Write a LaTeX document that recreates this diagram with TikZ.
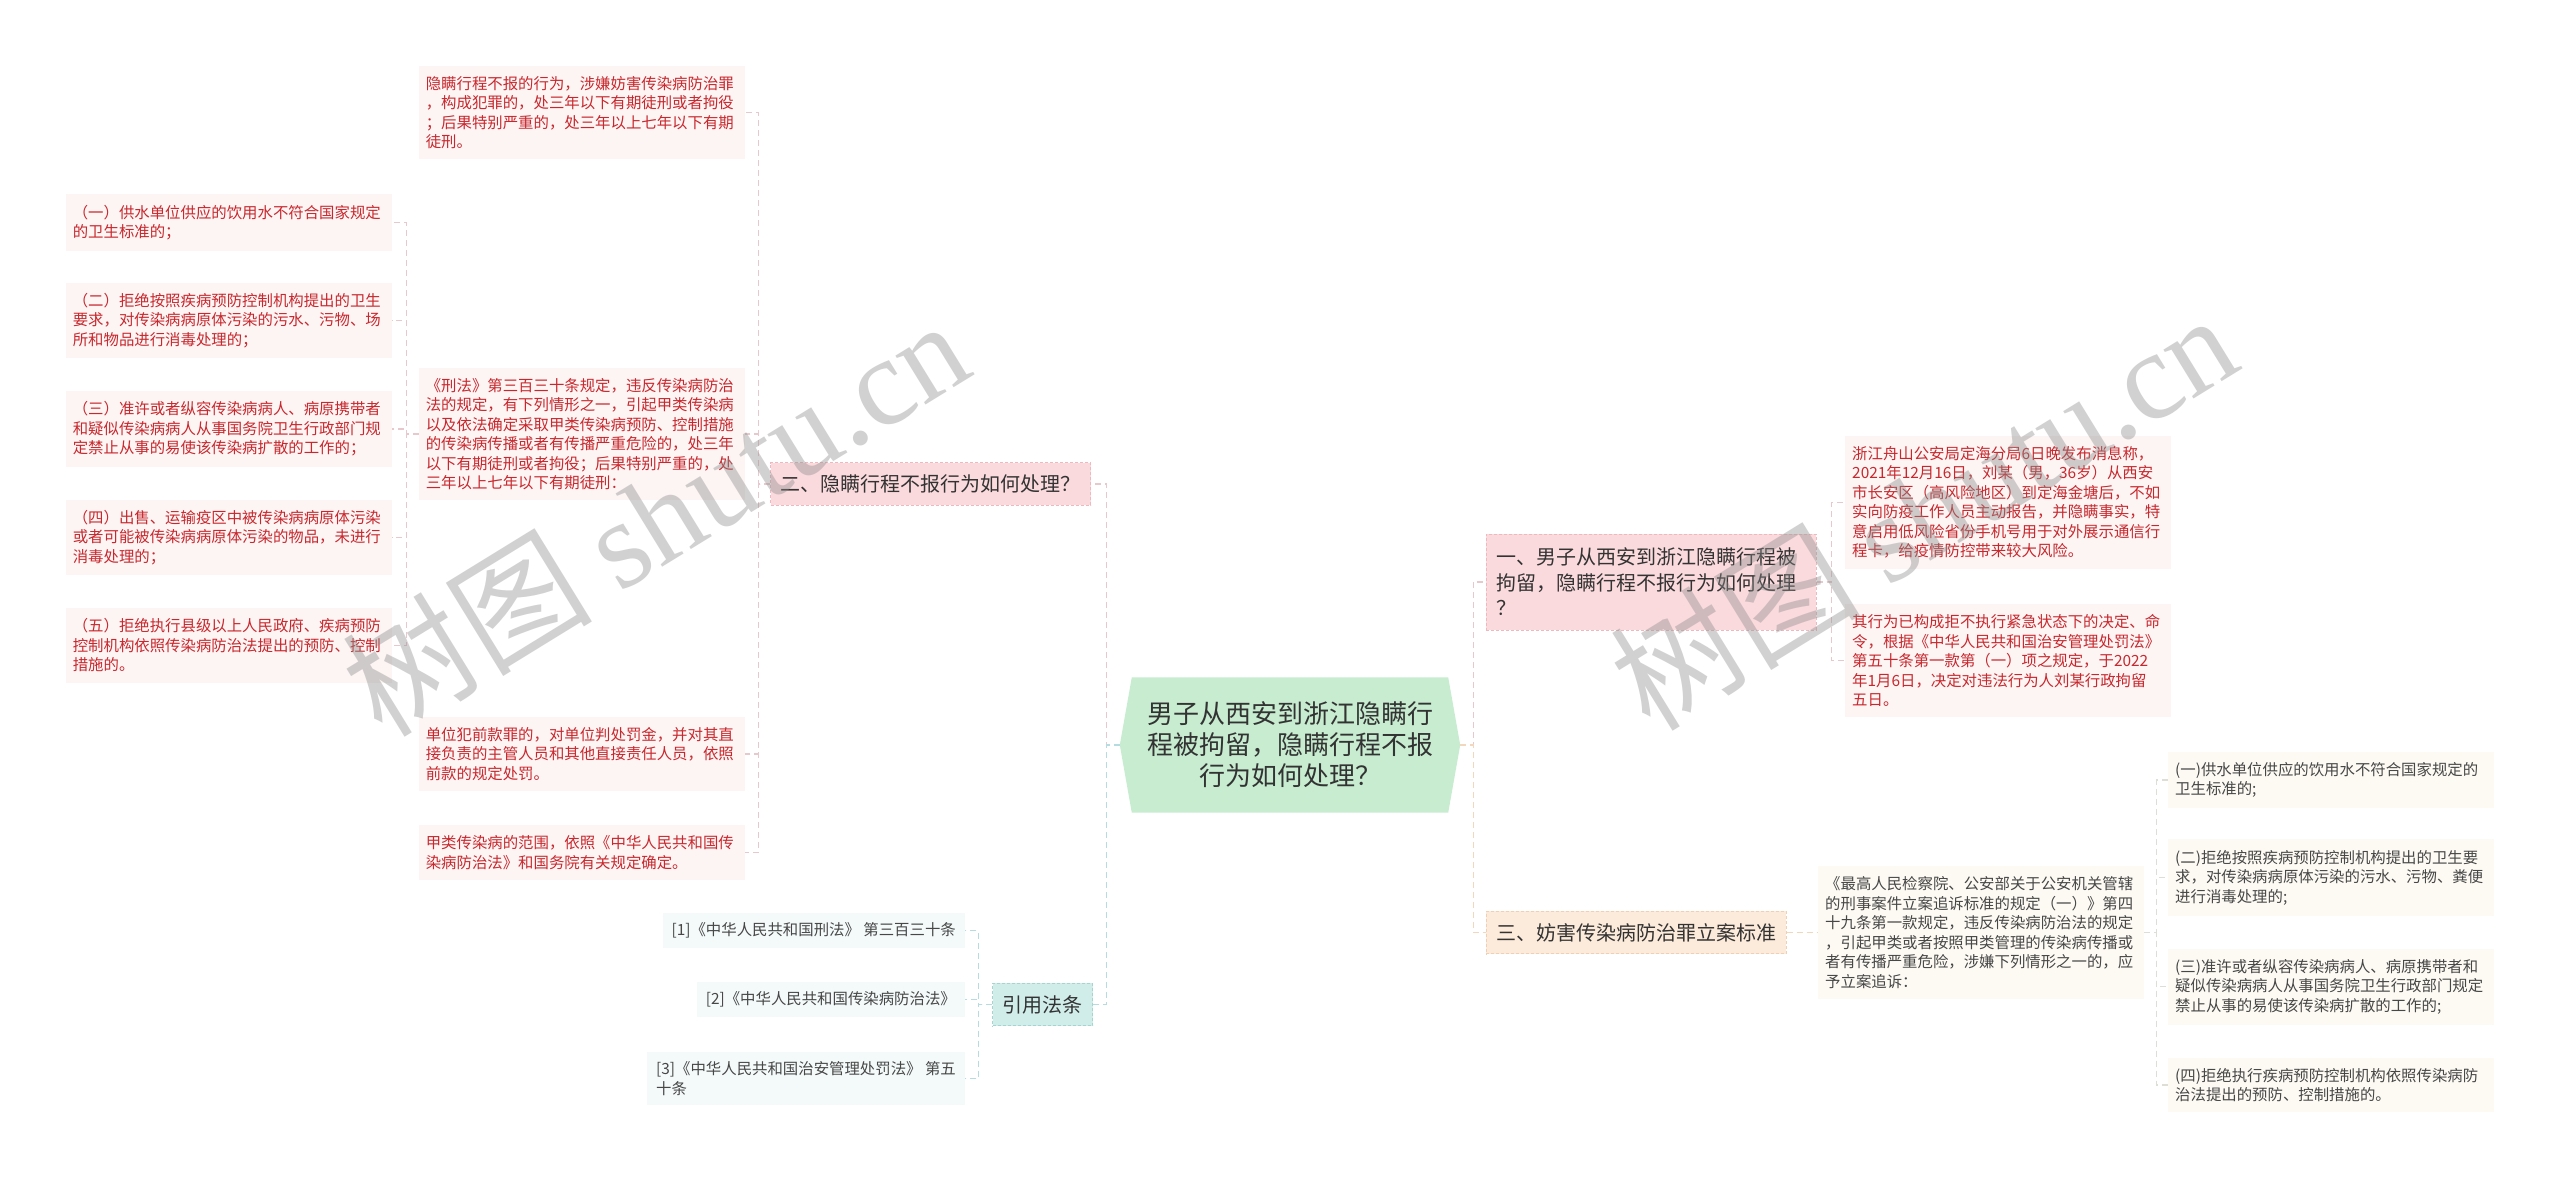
\documentclass[tikz,border=0pt]{standalone}
\usepackage{fontspec}
\setmainfont{Noto Sans CJK SC}
\newfontfamily\wmfont{Liberation Serif}
\usepackage{xcolor}
\usepackage{tikz}
\usetikzlibrary{backgrounds}
\definecolor{figtext}{RGB}{51,51,51}
\definecolor{figred}{RGB}{200,40,45}
\definecolor{hubfill}{RGB}{199,236,208}
\definecolor{pinktopic}{RGB}{250,218,220}
\definecolor{pinkedge}{RGB}{238,185,190}
\definecolor{pinkleaf}{RGB}{253,244,244}
\definecolor{tealtopic}{RGB}{208,237,234}
\definecolor{tealedge}{RGB}{165,213,208}
\definecolor{tealleaf}{RGB}{244,250,250}
\definecolor{peachtopic}{RGB}{252,235,218}
\definecolor{peachedge}{RGB}{240,208,180}
\definecolor{creamleaf}{RGB}{253,250,243}
\definecolor{pinkline}{RGB}{232,200,204}
\definecolor{tealline}{RGB}{180,220,225}
\definecolor{peachline}{RGB}{243,214,190}
\definecolor{greyline}{RGB}{222,222,214}
\definecolor{wmgrey}{RGB}{140,140,140}
\tikzset{
  hubbox/.style   ={font=\fontsize{26}{31}\selectfont, text=figtext, align=center, minimum width=340pt, minimum height=135pt, inner sep=0pt},
  topicbox/.style ={font=\fontsize{20}{25.5}\selectfont, text=figtext, align=left, inner xsep=10pt, inner ysep=12pt, line width=0.6pt, dash pattern=on 3pt off 2pt},
  leafbox/.style  ={font=\fontsize{15.4}{19.5}\selectfont, align=left, text width=312pt, inner xsep=7pt, inner ysep=10.5pt},
  redleaf/.style  ={leafbox, fill=pinkleaf, text=figred},
  greyleaf/.style ={leafbox, fill=creamleaf, text=figtext!90},
  citebox/.style  ={font=\fontsize{15.4}{19.5}\selectfont, align=left, inner xsep=9pt, inner ysep=10pt, fill=tealleaf, text=figtext!90},
  con/.style      ={line width=1.3pt, dash pattern=on 6pt off 4pt},
  wmark/.style    ={text=wmgrey, opacity=0.4, rotate=31.6, font=\fontsize{125}{125}\selectfont, inner sep=0pt},
}
\begin{document}
\begin{tikzpicture}[x=1pt,y=-1pt]
  \useasboundingbox (0,0) rectangle (2560,1179);
  \node[hubbox] (hub) at (1290,745) {男子从西安到浙江隐瞒行\\程被拘留，隐瞒行程不报\\行为如何处理？};

  \node[topicbox,fill=pinktopic,draw=pinkedge,anchor=east] (t2) at (1091,484) {二、隐瞒行程不报行为如何处理？};
  \node[topicbox,fill=tealtopic,draw=tealedge,anchor=east] (law) at (1093,1004.5) {引用法条};
  \node[topicbox,fill=pinktopic,draw=pinkedge,anchor=west,text width=310pt,inner ysep=14pt] (t1) at (1486,582) {一、男子从西安到浙江隐瞒行程被\\拘留，隐瞒行程不报行为如何处理\\？};
  \node[topicbox,fill=peachtopic,draw=peachedge,anchor=west] (t3) at (1486,932.5) {三、妨害传染病防治罪立案标准};

  \node[redleaf,anchor=east] (p1) at (745,112.5) {隐瞒行程不报的行为，涉嫌妨害传染病防治罪\\，构成犯罪的，处三年以下有期徒刑或者拘役\\；后果特别严重的，处三年以上七年以下有期\\徒刑。};
  \node[redleaf,anchor=east] (p2) at (745,434) {《刑法》第三百三十条规定，违反传染病防治\\法的规定，有下列情形之一，引起甲类传染病\\以及依法确定采取甲类传染病预防、控制措施\\的传染病传播或者有传播严重危险的，处三年\\以下有期徒刑或者拘役；后果特别严重的，处\\三年以上七年以下有期徒刑：};
  \node[redleaf,anchor=east] (p3) at (745,754) {单位犯前款罪的，对单位判处罚金，并对其直\\接负责的主管人员和其他直接责任人员，依照\\前款的规定处罚。};
  \node[redleaf,anchor=east] (p4) at (745,852.5) {甲类传染病的范围，依照《中华人民共和国传\\染病防治法》和国务院有关规定确定。};

  \node[redleaf,anchor=east] (a1) at (392,222.5) {（一）供水单位供应的饮用水不符合国家规定\\的卫生标准的；};
  \node[redleaf,anchor=east] (a2) at (392,320.5) {（二）拒绝按照疾病预防控制机构提出的卫生\\要求，对传染病病原体污染的污水、污物、场\\所和物品进行消毒处理的；};
  \node[redleaf,anchor=east] (a3) at (392,429) {（三）准许或者纵容传染病病人、病原携带者\\和疑似传染病病人从事国务院卫生行政部门规\\定禁止从事的易使该传染病扩散的工作的；};
  \node[redleaf,anchor=east] (a4) at (392,537.5) {（四）出售、运输疫区中被传染病病原体污染\\或者可能被传染病病原体污染的物品，未进行\\消毒处理的；};
  \node[redleaf,anchor=east] (a5) at (392,645.5) {（五）拒绝执行县级以上人民政府、疾病预防\\控制机构依照传染病防治法提出的预防、控制\\措施的。};

  \node[citebox,anchor=east] (s1) at (965,930.5) {[1]《中华人民共和国刑法》 第三百三十条};
  \node[citebox,anchor=east] (s2) at (965,999.5) {[2]《中华人民共和国传染病防治法》};
  \node[citebox,anchor=east] (s3) at (965,1078.5) {[3]《中华人民共和国治安管理处罚法》 第五\\十条};

  \node[redleaf,anchor=west] (f1) at (1845,502.5) {浙江舟山公安局定海分局6日晚发布消息称，\\2021年12月16日，刘某（男，36岁）从西安\\市长安区（高风险地区）到定海金塘后，不如\\实向防疫工作人员主动报告，并隐瞒事实，特\\意启用低风险省份手机号用于对外展示通信行\\程卡，给疫情防控带来较大风险。};
  \node[redleaf,anchor=west] (f2) at (1845,660.5) {其行为已构成拒不执行紧急状态下的决定、命\\令，根据《中华人民共和国治安管理处罚法》\\第五十条第一款第（一）项之规定，于2022\\年1月6日，决定对违法行为人刘某行政拘留\\五日。};

  \node[greyleaf,anchor=west] (std) at (1818,932.5) {《最高人民检察院、公安部关于公安机关管辖\\的刑事案件立案追诉标准的规定（一）》第四\\十九条第一款规定，违反传染病防治法的规定\\，引起甲类或者按照甲类管理的传染病传播或\\者有传播严重危险，涉嫌下列情形之一的，应\\予立案追诉：};
  \node[greyleaf,anchor=west] (g1) at (2168,780) {(一)供水单位供应的饮用水不符合国家规定的\\卫生标准的;};
  \node[greyleaf,anchor=west] (g2) at (2168,877.5) {(二)拒绝按照疾病预防控制机构提出的卫生要\\求，对传染病病原体污染的污水、污物、粪便\\进行消毒处理的;};
  \node[greyleaf,anchor=west] (g3) at (2168,986.5) {(三)准许或者纵容传染病病人、病原携带者和\\疑似传染病病人从事国务院卫生行政部门规定\\禁止从事的易使该传染病扩散的工作的;};
  \node[greyleaf,anchor=west] (g4) at (2168,1085) {(四)拒绝执行疾病预防控制机构依照传染病防\\治法提出的预防、控制措施的。};

  \draw[con,draw=pinkline] (hub.west) -- ++(-13,0) |- (t2.east);
  \draw[con,draw=tealline] (hub.west) -- ++(-13,0) |- (law.east);
  \draw[con,draw=pinkline] (hub.east) -- ++(13,0) |- (t1.west);
  \draw[con,draw=peachline] (hub.east) -- ++(13,0) |- (t3.west);

  \draw[con,draw=pinkline] (t2.west) -- ++(-12,0) |- (p1.east);
  \draw[con,draw=pinkline] (t2.west) -- ++(-12,0) |- (p2.east);
  \draw[con,draw=pinkline] (t2.west) -- ++(-12,0) |- (p3.east);
  \draw[con,draw=pinkline] (t2.west) -- ++(-12,0) |- (p4.east);

  \draw[con,draw=pinkline] (p2.west) -- ++(-12,0) |- (a1.east);
  \draw[con,draw=pinkline] (p2.west) -- ++(-12,0) |- (a2.east);
  \draw[con,draw=pinkline] (p2.west) -- ++(-12,0) |- (a3.east);
  \draw[con,draw=pinkline] (p2.west) -- ++(-12,0) |- (a4.east);
  \draw[con,draw=pinkline] (p2.west) -- ++(-12,0) |- (a5.east);

  \draw[con,draw=tealline] (law.west) -- ++(-14,0) |- (s1.east);
  \draw[con,draw=tealline] (law.west) -- ++(-14,0) |- (s2.east);
  \draw[con,draw=tealline] (law.west) -- ++(-14,0) |- (s3.east);

  \draw[con,draw=pinkline] (t1.east) -- ++(15,0) |- (f1.west);
  \draw[con,draw=pinkline] (t1.east) -- ++(15,0) |- (f2.west);

  \draw[con,draw=peachline] (t3.east) -- (std.west);
  \draw[con,draw=greyline] (std.east) -- ++(12,0) |- (g1.west);
  \draw[con,draw=greyline] (std.east) -- ++(12,0) |- (g2.west);
  \draw[con,draw=greyline] (std.east) -- ++(12,0) |- (g3.west);
  \draw[con,draw=greyline] (std.east) -- ++(12,0) |- (g4.west);

  \node[wmark] (wm1) at (655,516) {树图 {\wmfont shutu.cn}};
  \node[wmark] (wm2) at (1923,510) {树图 {\wmfont shutu.cn}};

  \begin{scope}[on background layer]
    \fill[white] (0,0) rectangle (2560,1179);
    \fill[hubfill] (hub.west) -- ([xshift=12pt]hub.north west) -- ([xshift=-12pt]hub.north east) -- (hub.east) -- ([xshift=-12pt]hub.south east) -- ([xshift=12pt]hub.south west) -- cycle;
  \end{scope}
\end{tikzpicture}
\end{document}
